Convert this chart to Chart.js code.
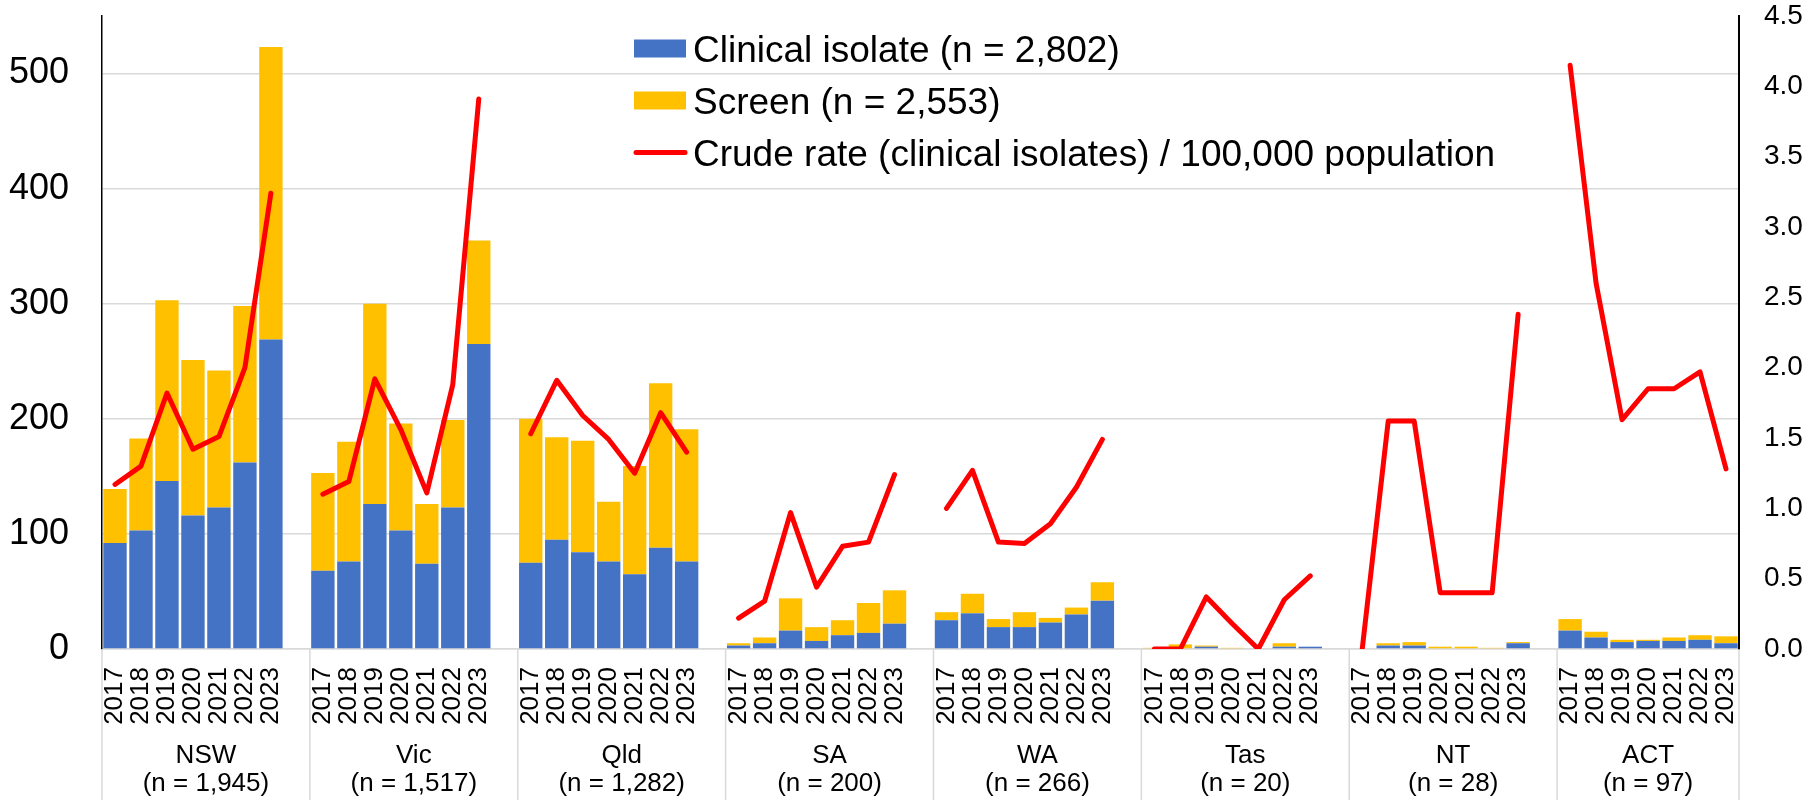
<!DOCTYPE html>
<html>
<head>
<meta charset="utf-8">
<script src="https://cdn.jsdelivr.net/npm/chart.js@4.4.1/dist/chart.umd.min.js"></script>
<style>
  html, body { margin: 0; padding: 0; background: #fff; }
  #wrap { width: 1812px; height: 800px; }
</style>
</head>
<body>
<div id="wrap"><canvas id="chart" width="1812" height="800"></canvas></div>
<script>
var states = ['NSW', 'Vic', 'Qld', 'SA', 'WA', 'Tas', 'NT', 'ACT'];
var stateCounts = ['(n = 1,945)', '(n = 1,517)', '(n = 1,282)', '(n = 200)', '(n = 266)', '(n = 20)', '(n = 28)', '(n = 97)'];
var years = ['2017', '2018', '2019', '2020', '2021', '2022', '2023'];

// one row per state, 2017..2023
var clinicalIsolates = [
    [92, 103, 146, 116, 123, 162, 269],
    [68, 76, 126, 103, 74, 123, 265],
    [75, 95, 84, 76, 65, 88, 76],
    [3, 5, 16, 7, 12, 14, 22],
    [25, 31, 19, 19, 23, 30, 42],
    [0, 0, 2, 0, 0, 2, 2],
    [0, 3, 3, 0, 0, 0, 5],
    [16, 10, 6, 7, 7, 8, 5]
];
var screens = [
    [47, 80, 157, 135, 119, 136, 254],
    [85, 104, 174, 93, 52, 76, 90],
    [125, 89, 97, 52, 94, 143, 115],
    [2, 5, 28, 12, 13, 26, 29],
    [7, 17, 7, 13, 4, 6, 16],
    [1, 4, 1, 1, 0, 3, 0],
    [0, 2, 3, 2, 2, 1, 1],
    [10, 5, 2, 1, 3, 4, 6]
];
var crudeRate = [
    [1.17, 1.30, 1.82, 1.42, 1.51, 2.00, 3.24],
    [1.10, 1.19, 1.92, 1.56, 1.11, 1.88, 3.91],
    [1.53, 1.91, 1.66, 1.49, 1.25, 1.68, 1.40],
    [0.22, 0.34, 0.97, 0.44, 0.73, 0.76, 1.24],
    [1.00, 1.27, 0.76, 0.75, 0.89, 1.15, 1.49],
    [0, 0, 0.37, 0.18, 0, 0.35, 0.52],
    [0, 1.62, 1.62, 0.40, 0.40, 0.40, 2.38],
    [4.15, 2.60, 1.63, 1.85, 1.85, 1.97, 1.28]
];

var fontFamily = "'Liberation Sans', Arial, sans-serif";

// lay the states side by side with an empty slot between them
function spread(rows) {
    var out = [];
    rows.forEach(function (r, i) {
        out.push.apply(out, r);
        if (i < rows.length - 1) out.push(null);
    });
    return out;
}
var xLabels = spread(states.map(function () { return years; }));
xLabels = xLabels.map(function (l) { return l === null ? '' : l; });

var groupAxisPlugin = {
    id: 'groupAxis',
    afterDraw: function (chart) {
        var ctx = chart.ctx;
        var xs = chart.scales.x;
        var area = chart.chartArea;
        var slot = xs.getPixelForValue(1) - xs.getPixelForValue(0);
        var slotsPerGroup = years.length + 1;
        var edges = states.map(function (s, k) {
            return xs.getPixelForValue(k * slotsPerGroup) - slot / 2;
        });
        edges.push(area.right);

        ctx.save();
        ctx.strokeStyle = '#d9d9d9';
        ctx.lineWidth = 1.5;
        edges.forEach(function (x) {
            ctx.beginPath();
            ctx.moveTo(x, area.bottom);
            ctx.lineTo(x, chart.height);
            ctx.stroke();
        });
        ctx.fillStyle = '#000';
        ctx.font = '26px ' + fontFamily;
        ctx.textAlign = 'center';
        ctx.textBaseline = 'alphabetic';
        states.forEach(function (s, k) {
            var cx = (edges[k] + edges[k + 1]) / 2;
            ctx.fillText(s, cx, area.bottom + 114);
            ctx.fillText(stateCounts[k], cx, area.bottom + 142);
        });
        ctx.restore();
    }
};

var legendPlugin = {
    id: 'floatLegend',
    afterDraw: function (chart) {
        var ctx = chart.ctx;
        ctx.save();
        ctx.font = '37px ' + fontFamily;
        ctx.textAlign = 'left';
        ctx.textBaseline = 'alphabetic';
        chart.data.datasets.forEach(function (ds, i) {
            var mid = 48.5 + i * 52;
            if (ds.type === 'line') {
                ctx.strokeStyle = ds.borderColor;
                ctx.lineWidth = 5;
                ctx.lineCap = 'round';
                ctx.beginPath();
                ctx.moveTo(636, mid);
                ctx.lineTo(685, mid);
                ctx.stroke();
            } else {
                ctx.fillStyle = ds.backgroundColor;
                ctx.fillRect(634, mid - 9, 52, 18);
            }
            ctx.fillStyle = '#000';
            ctx.fillText(ds.label, 693, mid + 13.5);
        });
        ctx.restore();
    }
};

Chart.defaults.font.family = fontFamily;
Chart.defaults.color = '#000';

var myChart = new Chart(document.getElementById('chart'), {
    type: 'bar',
    data: {
        labels: xLabels,
        datasets: [{
            label: 'Clinical isolate (n = 2,802)',
            data: spread(clinicalIsolates),
            backgroundColor: '#4472C4',
            stack: 's',
            order: 1
        }, {
            label: 'Screen (n = 2,553)',
            data: spread(screens),
            backgroundColor: '#FFC000',
            stack: 's',
            order: 2
        }, {
            type: 'line',
            label: 'Crude rate (clinical isolates) / 100,000 population',
            data: spread(crudeRate),
            yAxisID: 'y1',
            borderColor: '#FF0000',
            borderWidth: 5,
            pointRadius: 0,
            tension: 0,
            spanGaps: false,
            borderCapStyle: 'round',
            borderJoinStyle: 'round',
            order: 0
        }]
    },
    options: {
        responsive: false,
        animation: false,
        layout: { padding: { top: 16, left: 0, right: 0, bottom: 0 } },
        datasets: { bar: { barPercentage: 0.9, categoryPercentage: 1 } },
        plugins: { legend: { display: false }, tooltip: { enabled: false } },
        scales: {
            x: {
                stacked: true,
                grid: { display: false, drawTicks: false },
                border: { color: '#d9d9d9', width: 1.5 },
                ticks: {
                    autoSkip: false, minRotation: 90, maxRotation: 90,
                    padding: 18, font: { size: 26 }, color: '#000'
                },
                afterFit: function (s) { s.height = 151; s.paddingLeft = 0; s.paddingRight = 0; }
            },
            y: {
                stacked: true,
                min: 0, max: 550,
                ticks: { stepSize: 100, padding: 33, font: { size: 36 }, color: '#000' },
                grid: { color: '#d9d9d9', lineWidth: 1.5, drawTicks: false },
                border: { color: '#000', width: 1.5 },
                afterBuildTicks: function (s) { s.ticks = s.ticks.filter(function (t) { return t.value <= 500; }); },
                afterFit: function (s) { s.width = 102; s.paddingTop = 0; s.paddingBottom = 0; }
            },
            y1: {
                position: 'right',
                min: 0, max: 4.5,
                ticks: {
                    stepSize: 0.5, padding: 25, font: { size: 28 }, color: '#000',
                    callback: function (v) { return v.toFixed(1); }
                },
                grid: { drawOnChartArea: false, drawTicks: false },
                border: { color: '#000', width: 2 },
                afterFit: function (s) { s.width = 73; s.paddingTop = 0; s.paddingBottom = 0; }
            }
        }
    },
    plugins: [groupAxisPlugin, legendPlugin]
});
</script>
</body>
</html>
